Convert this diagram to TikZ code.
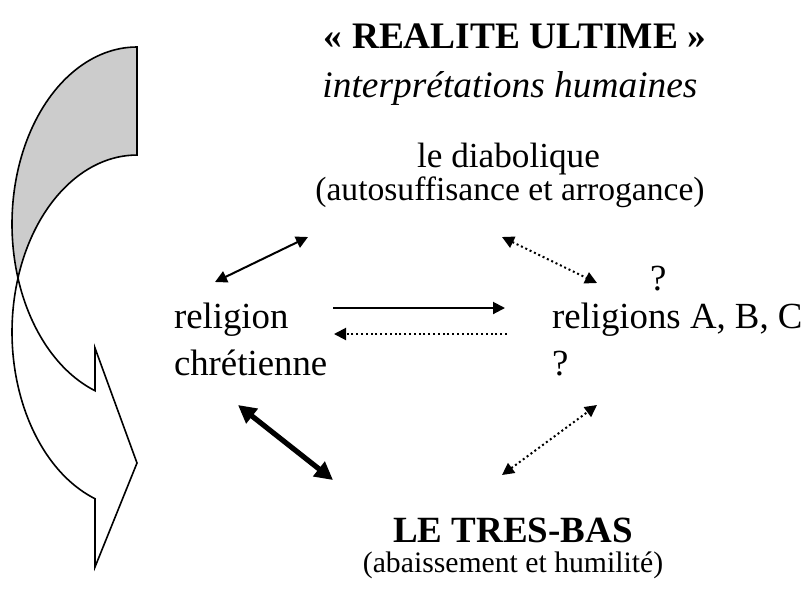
\documentclass[tikz,border=0pt]{standalone}
\usepackage{fontspec}
\setmainfont{Liberation Serif}
\usetikzlibrary{arrows.meta}
\tikzset{
  txt/.style={inner sep=0pt, outer sep=0pt, anchor=base},
  txtl/.style={inner sep=0pt, outer sep=0pt, anchor=base west},
  body/.style={font=\fontsize{18.4}{22}\selectfont},
  thin/.style={line width=1pt, {Triangle[length=6pt,width=6pt]}-{Triangle[length=6pt,width=6pt]}},
  thinr/.style={line width=1pt, -{Triangle[length=6pt,width=6pt]}},
  dotl/.style={line width=1pt, dash pattern=on 1pt off 1.4pt},
  thick2/.style={line width=2.6pt, {Triangle[length=9pt,width=9pt]}-{Triangle[length=9pt,width=9pt]}},
  bigarrow/.style={line width=0.8pt, line join=miter, draw=black}
}
\begin{document}
\begin{tikzpicture}[x=0.5pt, y=-0.5pt]
\useasboundingbox (0,0) rectangle (806,590);
% curved arrow
\filldraw[bigarrow, fill=gray!40] (137,47)
  arc[start angle=270, end angle=162.23, x radius=125, y radius=177]
  arc[start angle=197.77, end angle=270, x radius=125, y radius=177] -- cycle;
\filldraw[bigarrow, fill=white] (18,278)
  arc[start angle=197.77, end angle=109.63, x radius=125, y radius=177]
  -- (95,567) -- (137,463) -- (95,348) -- (95,390.7)
  arc[start angle=109.63, end angle=162.23, x radius=125, y radius=177] -- cycle;
% texts
\node[txt, font=\fontsize{18.7}{22}\selectfont\bfseries] (title) at (515,48) {« REALITE ULTIME »};
\node[txt, font=\fontsize{18.7}{22}\selectfont\itshape] (interp) at (510,97) {interprétations humaines};
\node[txt, font=\fontsize{17.6}{21}\selectfont] (diab) at (508.5,167) {le diabolique};
\node[txt, font=\fontsize{16.8}{20}\selectfont] (auto) at (510,200) {(autosuffisance et arrogance)};
\node[txtl, body] (q1) at (650,290) {?};
\node[txtl, body] (rel1) at (174,328) {religion};
\node[txtl, body] (rel2) at (174,375) {chrétienne};
\node[txtl, body] (oth1) at (552,328) {religions A, B, C};
\node[txtl, body] (oth2) at (552,375) {?};
\node[txt, font=\fontsize{18.5}{22}\selectfont\bfseries] (bas) at (513,542) {LE TRES-BAS};
\node[txt, font=\fontsize{14.85}{18}\selectfont] (humb) at (513,572) {(abaissement et humilité)};
% connector end points
\coordinate (a1) at (215,282); \coordinate (a2) at (308,237);
\coordinate (b1) at (502,237); \coordinate (b2) at (597,283);
\coordinate (c1) at (333,308); \coordinate (c2) at (505,308);
\coordinate (d1) at (507,334); \coordinate (d2) at (334,334);
\coordinate (e1) at (238,405); \coordinate (e2) at (333,480);
\coordinate (f1) at (502,475); \coordinate (f2) at (597,405);
% connectors
\draw[thin] (a1) -- (a2);
\draw[thin, dotl] (b1) -- (b2);
\draw[thinr] (c1) -- (c2);
\draw[thinr, dotl] (d1) -- (d2);
\draw[thick2] (e1) -- (e2);
\draw[thin, dotl] (f1) -- (f2);
\end{tikzpicture}
\end{document}
